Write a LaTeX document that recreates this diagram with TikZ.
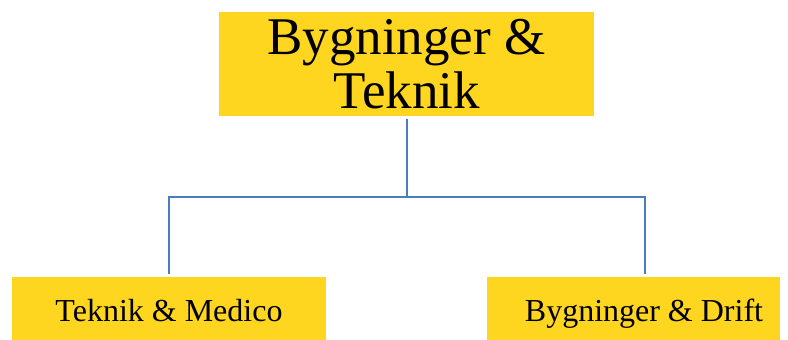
\documentclass[tikz,border=0pt]{standalone}
\usepackage{fontspec}
\setmainfont{Liberation Serif}
\definecolor{boxyellow}{HTML}{FFD61F}
\definecolor{linkblue}{HTML}{4A7EBB}
\begin{document}
\begin{tikzpicture}[x=1pt,y=-1pt,
        unit/.style={fill=boxyellow,inner sep=0pt,align=center},
        topunit/.style={unit,minimum width=375pt,minimum height=104pt,font=\fontsize{53}{54}\selectfont},
        subunit/.style={unit,minimum height=63pt,text height=26pt,text depth=0pt,font=\fontsize{32}{38}\selectfont},
        link/.style={draw=linkblue,line width=2pt}]
        \useasboundingbox (0,0) rectangle (788,340);
        \node[topunit] (top) at (406.5,64) {Bygninger \&\\Teknik};
        \node[subunit,minimum width=314pt] (medico) at (169,308.5) {Teknik \& Medico};
        \node[subunit,minimum width=293pt] (drift) at (633.5,308.5) {\hspace*{21pt}Bygninger \& Drift};
        \coordinate (fork) at (406.5,196.7);
        \draw[link] ([yshift=-3pt]top.south) -- (fork);
        \draw[link] ([yshift=3pt]medico.north) |- (fork) -| ([xshift=11pt,yshift=3pt]drift.north);
    \end{tikzpicture}
\end{document}
